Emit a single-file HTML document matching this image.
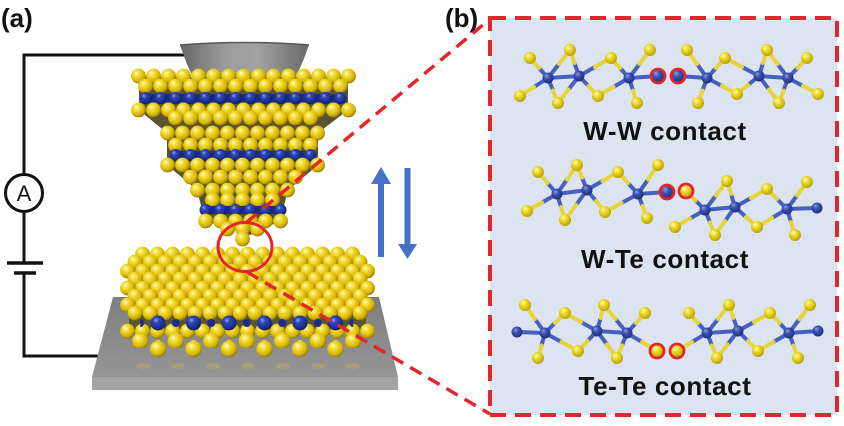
<!DOCTYPE html>
<html><head><meta charset="utf-8"><style>
html,body{margin:0;padding:0;background:#fff;}
svg{display:block;}
.lbl{font-family:"Liberation Sans",Arial,sans-serif;font-weight:bold;}
</style></head><body>
<svg width="844" height="426" viewBox="0 0 844 426" xmlns="http://www.w3.org/2000/svg">
<defs>
<radialGradient id="gy" cx=".42" cy=".38" r=".65" fx=".35" fy=".3">
<stop offset="0" stop-color="#fffbd0"/><stop offset=".3" stop-color="#f6de3a"/><stop offset=".75" stop-color="#d4b400"/><stop offset="1" stop-color="#857000"/></radialGradient>
<radialGradient id="gb" cx=".42" cy=".38" r=".65" fx=".35" fy=".3">
<stop offset="0" stop-color="#8ea0f0"/><stop offset=".3" stop-color="#2f47b8"/><stop offset=".8" stop-color="#1a2a88"/><stop offset="1" stop-color="#0c1650"/></radialGradient>
<radialGradient id="gt" cx=".42" cy=".38" r=".65" fx=".35" fy=".3">
<stop offset="0" stop-color="#fffcc0"/><stop offset=".35" stop-color="#f3de2e"/><stop offset="1" stop-color="#b59e00"/></radialGradient>
<radialGradient id="gw" cx=".42" cy=".38" r=".65" fx=".35" fy=".3">
<stop offset="0" stop-color="#8b9be2"/><stop offset=".4" stop-color="#3c52b0"/><stop offset="1" stop-color="#1e2c78"/></radialGradient>
<linearGradient id="gcone" x1="0" y1="0" x2="1" y2="0">
<stop offset="0" stop-color="#666"/><stop offset=".35" stop-color="#9c9c9c"/><stop offset=".6" stop-color="#a2a2a2"/><stop offset="1" stop-color="#6a6a6a"/></linearGradient>
<linearGradient id="gslab" x1="0" y1="0" x2="0" y2="1">
<stop offset="0" stop-color="#7e7e7e"/><stop offset="1" stop-color="#969696"/></linearGradient>
<pattern id="py" width="15" height="16" patternUnits="userSpaceOnUse"><circle cx="7.5" cy="8" r="7.4" fill="url(#gy)"/></pattern>
<pattern id="pb" width="15" height="12" patternUnits="userSpaceOnUse"><circle cx="7.5" cy="6" r="6" fill="url(#gb)"/></pattern>
<pattern id="pB" width="35.5" height="16" patternUnits="userSpaceOnUse"><circle cx="17.75" cy="8" r="7.5" fill="url(#gb)"/><circle cx="0" cy="8" r="4" fill="#1d2c8a"/><circle cx="35.5" cy="8" r="4" fill="#1d2c8a"/></pattern>
<pattern id="pY" width="35.5" height="18" patternUnits="userSpaceOnUse"><rect x="15.75" y="-6" width="4" height="10" fill="#e8cc20"/><circle cx="17.75" cy="9" r="8.2" fill="url(#gy)"/></pattern>
</defs>

<!-- labels -->
<text class="lbl" x="1" y="27" font-size="26" fill="#111">(a)</text>
<text class="lbl" x="445" y="27" font-size="26" fill="#111">(b)</text>

<!-- circuit -->
<g stroke="#111" stroke-width="3" fill="none">
<polyline points="194,55 24,55 24,174"/>
<circle cx="24" cy="193" r="18.5" fill="#fff"/>
<line x1="24" y1="212" x2="24" y2="263"/>
<line x1="7" y1="263" x2="43" y2="263" stroke-width="3.5"/>
<line x1="14" y1="273" x2="36" y2="273" stroke-width="3.5"/>
<polyline points="24,273 24,356 116,356"/>
</g>
<text x="24" y="201" font-size="22" text-anchor="middle" font-family="Liberation Sans,Arial,sans-serif" fill="#111">A</text>

<!-- substrate slab -->
<polygon points="113,297 379,297 398,377 92,377" fill="url(#gslab)"/>
<rect x="92" y="377" width="306" height="13" fill="#a4a4a4"/>
<g fill="#b5aa6a" opacity=".55">
<ellipse cx="143" cy="366" rx="7" ry="3"/><ellipse cx="178" cy="366" rx="7" ry="3"/><ellipse cx="213" cy="366" rx="7" ry="3"/><ellipse cx="248" cy="366" rx="7" ry="3"/><ellipse cx="283" cy="366" rx="7" ry="3"/><ellipse cx="318" cy="366" rx="7" ry="3"/><ellipse cx="353" cy="366" rx="7" ry="3"/>
</g>

<!-- bottom lattice -->
<polygon points="143,255 352,255 366,271 366,330 129,330 129,271" fill="#5a5530"/>
<g transform="translate(135,246)"><rect width="225" height="16" fill="url(#py)"/></g>
<g transform="translate(127.5,254)"><rect width="240" height="16" fill="url(#py)"/></g>
<g transform="translate(120,263)"><rect width="255" height="16" fill="url(#py)"/></g>
<g transform="translate(127.5,271)"><rect width="240" height="16" fill="url(#py)"/></g>
<g transform="translate(120,280)"><rect width="255" height="16" fill="url(#py)"/></g>
<g transform="translate(127.5,288)"><rect width="240" height="16" fill="url(#py)"/></g>
<g transform="translate(120,297)"><rect width="255" height="16" fill="url(#py)"/></g>
<g transform="translate(127.5,305)"><rect width="240" height="16" fill="url(#py)"/></g>
<g transform="translate(120,323)"><rect width="255" height="16" fill="url(#py)"/></g>
<g transform="translate(140.25,315)"><rect width="213" height="16" fill="url(#pB)"/></g>
<g transform="translate(122.5,332)"><rect width="248.5" height="16" fill="url(#pY)"/></g>
<g transform="translate(140.25,340)"><rect width="213" height="18" fill="url(#pY)"/></g>

<!-- top tip cone -->
<path d="M180 45 Q244 40 309 45 L305 56 Q299 72 292 82 L197 82 Q189 72 184 56 Z" fill="url(#gcone)"/>
<path d="M180 45 Q244 40 309 45" stroke="#555" stroke-width="1.5" fill="none"/>

<!-- top lattice -->
<polygon points="139,77 348,77 348,110 318,133 318,165 288,190 280,221 250,235 205,221 197,190 167,165 167,133 139,110" fill="#5a5530"/>
<g transform="translate(131,68)"><rect width="225" height="16" fill="url(#py)"/></g>
<g transform="translate(138,78)"><rect width="210" height="16" fill="url(#py)"/></g>
<rect x="142" y="94" width="202" height="8" fill="#1c2a80"/>
<g transform="translate(138,92)"><rect width="210" height="12" fill="url(#pb)"/></g>
<g transform="translate(131,102)"><rect width="225" height="16" fill="url(#py)"/></g>
<g transform="translate(168,110)"><rect width="150" height="16" fill="url(#py)"/></g>
<g transform="translate(160,125)"><rect width="165" height="16" fill="url(#py)"/></g>
<g transform="translate(168,137)"><rect width="150" height="16" fill="url(#py)"/></g>
<rect x="172" y="151" width="142" height="8" fill="#1c2a80"/>
<g transform="translate(168,149)"><rect width="150" height="12" fill="url(#pb)"/></g>
<g transform="translate(160,157)"><rect width="165" height="16" fill="url(#py)"/></g>
<g transform="translate(183,169)"><rect width="120" height="16" fill="url(#py)"/></g>
<g transform="translate(190,182)"><rect width="105" height="16" fill="url(#py)"/></g>
<g transform="translate(205,192)"><rect width="75" height="16" fill="url(#py)"/></g>
<rect x="202" y="206" width="82" height="8" fill="#1c2a80"/>
<g transform="translate(198,204)"><rect width="90" height="12" fill="url(#pb)"/></g>
<g transform="translate(198,213)"><rect width="90" height="16" fill="url(#py)"/></g>
<g transform="translate(220,221)"><rect width="45" height="16" fill="url(#py)"/></g>
<g transform="translate(235,231)"><rect width="15" height="16" fill="url(#py)"/></g>

<!-- arrows -->
<g fill="#4472c4">
<rect x="378" y="182" width="6" height="75"/>
<polygon points="371,184 391,184 381,167"/>
<rect x="404.5" y="168" width="6" height="78"/>
<polygon points="398,244 417,244 407.5,259"/>
</g>

<!-- box (b) -->
<rect x="490" y="18" width="347" height="397" fill="#dde4f1" stroke="#e3262b" stroke-width="4" stroke-dasharray="16 9"/>

<!-- red circle and connectors -->
<ellipse cx="245" cy="247" rx="27" ry="24.5" fill="none" stroke="#e3262b" stroke-width="3"/>
<g stroke="#e3262b" stroke-width="3.5" stroke-dasharray="13 8" fill="none">
<line x1="247" y1="222" x2="490" y2="19"/>
<line x1="247" y1="272" x2="490" y2="414"/>
</g>

<!-- molecules: bonds -->
<g stroke-width="4" stroke-linecap="round" fill="none">
<path stroke="#4660c0" d="M548 78L539 68M548 78L534 87M548 78L559 64M548 78L553 90.5M548 78L579 76M579 76L574.5 63M579 76L568.5 89.5M579 76L595 67M579 76L588.5 86M629 78L620 68M629 78L613.5 87M629 78L639.5 64M629 78L633 90.5M629 78L658 76M678 76L707 78M707 78L697 64M707 78L702.5 90.5M707 78L716 68M707 78L722 86M759 76L742 67M759 76L748 85M759 76L763 63M759 76L769 89.5M759 76L788 78M788 78L777.5 64M788 78L783.5 90.5M788 78L797.5 68M788 78L803 86
M557 194L547.5 183M557 194L542 202.5M557 194L567 179.5M557 194L561 207M557 194L587 190M587 190L582 177.5M587 190L576 205M587 190L602.5 181M587 190L596 201M638 194L628 183M638 194L621.5 203M638 194L648 179.5M638 194L642.5 206M638 194L667 192M705 210L695.5 200.5M705 210L690 218.5M705 210L716 195.5M705 210L710 222.5M705 210L735 207M735 207L731 194M735 207L725 221M735 207L751 198M735 207L746 217M787 209L777 199M787 209L772 218M787 209L797 195.5M787 209L791 222M787 209L817 208
M517 332L545 333M545 333L535 319M545 333L555 323M545 333L541.5 345.5M545 333L561.5 342M597 331L581 322M597 331L587.5 341M597 331L600.5 318M597 331L607 344.5M597 331L627 333M627 333L615.5 319M627 333L622 345.5M627 333L636 323M627 333L642 342M707 333L692 342M707 333L698 323M707 333L718 319M707 333L712 345.5M707 333L738 331M738 331L733.5 318M738 331L727.5 344.5M738 331L754 322M738 331L748 341M789 333L779.5 323M789 333L773.5 342M789 333L799.5 319M789 333L793.5 345.5M789 333L818 331"/>
<path stroke="#e6d43a" d="M539 68L530 58M534 87L520 96M559 64L570 50M553 90.5L558 103M574.5 63L570 50M568.5 89.5L558 103M595 67L611 58M588.5 86L598 96M620 68L611 58M613.5 87L598 96M639.5 64L650 50M633 90.5L637 103M697 64L687 50M702.5 90.5L698 103M716 68L725 58M722 86L737 94M742 67L725 58M748 85L737 94M763 63L767 50M769 89.5L779 103M777.5 64L767 50M783.5 90.5L779 103M797.5 68L807 58M803 86L818 94
M547.5 183L538 172M542 202.5L527 211M567 179.5L577 165M561 207L565 220M582 177.5L577 165M576 205L565 220M602.5 181L618 172M596 201L605 212M628 183L618 172M621.5 203L605 212M648 179.5L658 165M642.5 206L647 218M695.5 200.5L686 191M690 218.5L675 227M716 195.5L727 181M710 222.5L715 235M731 194L727 181M725 221L715 235M751 198L767 189M746 217L757 227M777 199L767 189M772 218L757 227M797 195.5L807 182M791 222L795 235
M535 319L525 305M555 323L565 313M541.5 345.5L538 358M561.5 342L578 351M581 322L565 313M587.5 341L578 351M600.5 318L604 305M607 344.5L617 358M615.5 319L604 305M622 345.5L617 358M636 323L645 313M642 342L657 351M692 342L677 351M698 323L689 313M718 319L729 305M712 345.5L717 358M733.5 318L729 305M727.5 344.5L717 358M754 322L770 313M748 341L758 351M779.5 323L770 313M773.5 342L758 351M799.5 319L810 305M793.5 345.5L798 358"/>
</g>

<!-- molecules: Te atoms -->
<g fill="url(#gt)">
<circle cx="530" cy="58" r="6"/><circle cx="570" cy="50" r="6"/><circle cx="611" cy="58" r="6"/><circle cx="650" cy="50" r="6"/><circle cx="520" cy="96" r="6"/><circle cx="558" cy="103" r="6"/><circle cx="598" cy="96" r="6"/><circle cx="637" cy="103" r="6"/>
<circle cx="687" cy="50" r="6"/><circle cx="725" cy="58" r="6"/><circle cx="767" cy="50" r="6"/><circle cx="807" cy="58" r="6"/><circle cx="698" cy="103" r="6"/><circle cx="737" cy="94" r="6"/><circle cx="779" cy="103" r="6"/><circle cx="818" cy="94" r="6"/>
<circle cx="538" cy="172" r="6"/><circle cx="577" cy="165" r="6"/><circle cx="618" cy="172" r="6"/><circle cx="658" cy="165" r="6"/><circle cx="527" cy="211" r="6"/><circle cx="565" cy="220" r="6"/><circle cx="605" cy="212" r="6"/><circle cx="647" cy="218" r="6"/>
<circle cx="727" cy="181" r="6"/><circle cx="767" cy="189" r="6"/><circle cx="807" cy="182" r="6"/><circle cx="675" cy="227" r="6"/><circle cx="715" cy="235" r="6"/><circle cx="757" cy="227" r="6"/><circle cx="795" cy="235" r="6"/>
<circle cx="525" cy="305" r="6"/><circle cx="565" cy="313" r="6"/><circle cx="604" cy="305" r="6"/><circle cx="645" cy="313" r="6"/><circle cx="538" cy="358" r="6"/><circle cx="578" cy="351" r="6"/><circle cx="617" cy="358" r="6"/>
<circle cx="689" cy="313" r="6"/><circle cx="729" cy="305" r="6"/><circle cx="770" cy="313" r="6"/><circle cx="810" cy="305" r="6"/><circle cx="717" cy="358" r="6"/><circle cx="758" cy="351" r="6"/><circle cx="798" cy="358" r="6"/>
</g>
<!-- W atoms -->
<g fill="url(#gw)">
<circle cx="548" cy="78" r="5.5"/><circle cx="579" cy="76" r="5.5"/><circle cx="629" cy="78" r="5.5"/><circle cx="707" cy="78" r="5.5"/><circle cx="759" cy="76" r="5.5"/><circle cx="788" cy="78" r="5.5"/>
<circle cx="557" cy="194" r="5.5"/><circle cx="587" cy="190" r="5.5"/><circle cx="638" cy="194" r="5.5"/><circle cx="705" cy="210" r="5.5"/><circle cx="735" cy="207" r="5.5"/><circle cx="787" cy="209" r="5.5"/><circle cx="817" cy="208" r="5.5"/>
<circle cx="517" cy="332" r="5.5"/><circle cx="545" cy="333" r="5.5"/><circle cx="597" cy="331" r="5.5"/><circle cx="627" cy="333" r="5.5"/><circle cx="707" cy="333" r="5.5"/><circle cx="738" cy="331" r="5.5"/><circle cx="789" cy="333" r="5.5"/><circle cx="818" cy="331" r="5.5"/>
</g>
<!-- highlighted contact atoms -->
<g stroke="#e3262b" stroke-width="2.8">
<circle cx="658" cy="76" r="7" fill="url(#gw)"/><circle cx="678" cy="76" r="7" fill="url(#gw)"/>
<circle cx="667" cy="192" r="7" fill="url(#gw)"/><circle cx="686" cy="191" r="7" fill="url(#gt)"/>
<circle cx="657" cy="351" r="7" fill="url(#gt)"/><circle cx="677" cy="351" r="7" fill="url(#gt)"/>
</g>

<!-- captions -->
<g class="lbl" font-size="26" fill="#111" text-anchor="middle" letter-spacing="0.6">
<text x="665" y="140">W-W contact</text>
<text x="665" y="268">W-Te contact</text>
<text x="665" y="395">Te-Te contact</text>
</g>
</svg>
</body></html>
